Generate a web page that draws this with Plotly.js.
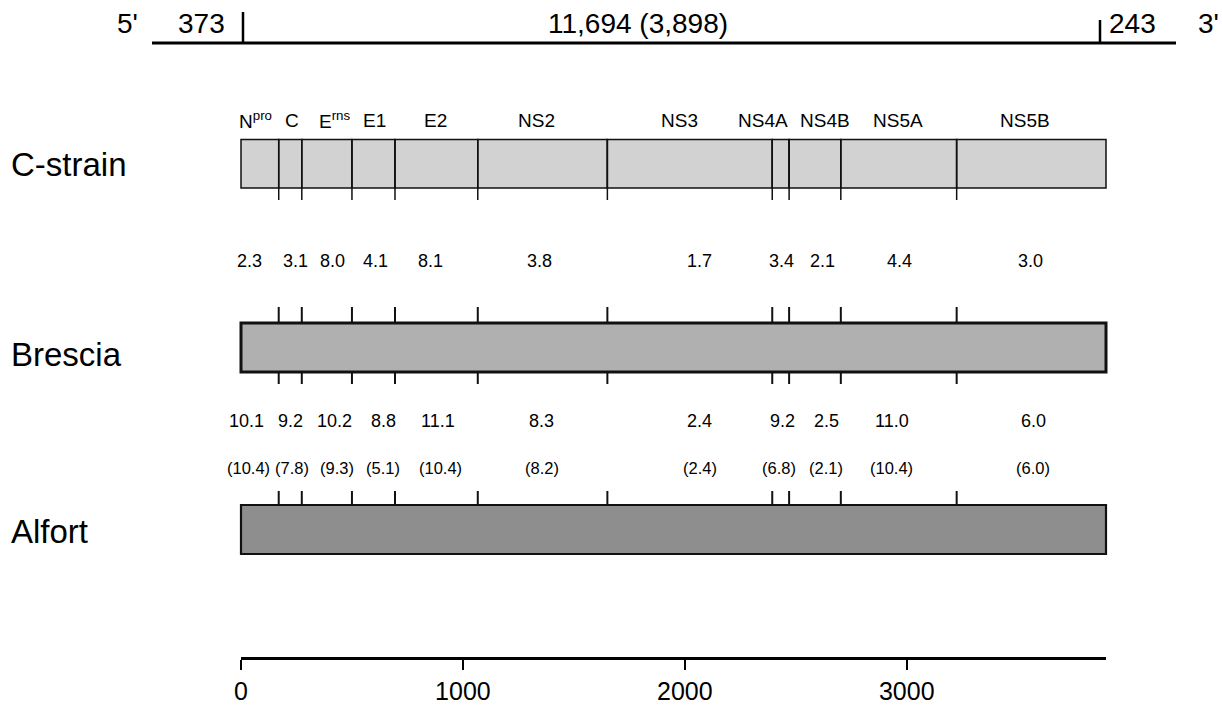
<!DOCTYPE html>
<html>
<head>
<meta charset="utf-8">
<script src="https://cdn.plot.ly/plotly-3.0.1.min.js"></script>
<style>html,body{margin:0;padding:0;background:#fff;}#chart{width:1222px;height:707px;}</style>
</head>
<body>
<div id="chart"></div>
<script>
// ---------- data ----------
const regions = ['N<sup>pro</sup>', 'C', 'E<sup>rns</sup>', 'E1', 'E2', 'NS2', 'NS3', 'NS4A', 'NS4B', 'NS5A', 'NS5B'];
const boundaries = [0, 170, 274, 500, 694, 1067, 1651, 2394, 2470, 2703, 3225, 3898];
const strains = ['C-strain', 'Brescia', 'Alfort'];
const cStrainVsBrescia = ['2.3', '3.1', '8.0', '4.1', '8.1', '3.8', '1.7', '3.4', '2.1', '4.4', '3.0'];
const bresciaVsAlfortNt = ['10.1', '9.2', '10.2', '8.8', '11.1', '8.3', '2.4', '9.2', '2.5', '11.0', '6.0'];
const bresciaVsAlfortAa = ['10.4', '7.8', '9.3', '5.1', '10.4', '8.2', '2.4', '6.8', '2.1', '10.4', '6.0'];
const scaleTicks = [0, 1000, 2000, 3000];
const utr5 = '373';
const orfText = '11,694 (3,898)';
const utr3 = '243';

// ---------- layout helpers (pixel geometry) ----------
const W = 1222, H = 707;
const PX_PER_AA = (1106 - 241) / 3898;
const X0 = -241 / PX_PER_AA, X1 = (W - 241) / PX_PER_AA;
const px = p => p / W;          // paper x
const py = p => 1 - p / H;      // paper y
const FONT = 'Liberation Sans, Arial, Helvetica, sans-serif';

const rows = {
  'C-strain': {top: 139.5, bottom: 188, fill: '#d2d2d2', lw: 1.5},
  'Brescia':  {top: 323, bottom: 372, fill: '#b0b0b0', lw: 3},
  'Alfort':   {top: 505, bottom: 554, fill: '#8e8e8e', lw: 2.2}
};
const labelShift = [-4, 2, 8, 1, -1, -6, -10, -18, 10, -1, -6];
const row1Shift = [-10, 5, 6, 2, -6, -3, 10, 1, 8, 1, -1];
const row2Shift = [-13, 0, 8, 10, 2, -1, 10, 2, 12, -7, 2];
const row3Shift = [-11, 2, 10, 10, 4, -1, 10, -2, 11, -7, 2];

const mids = boundaries.slice(0, -1).map((b, i) => (b + boundaries[i + 1]) / 2);
const total = boundaries[boundaries.length - 1];
const inner = boundaries.slice(1, -1);

const traces = [];
const cs = rows['C-strain'];
traces.push({
  type: 'bar', orientation: 'h', xaxis: 'x', yaxis: 'y',
  y: mids.map(() => (cs.top + cs.bottom) / 2),
  base: boundaries.slice(0, -1),
  x: boundaries.slice(1).map((b, i) => b - boundaries[i]),
  width: cs.bottom - cs.top,
  marker: {color: cs.fill, line: {color: '#111', width: cs.lw}},
  hoverinfo: 'skip', showlegend: false
});
['Brescia', 'Alfort'].forEach(s => {
  const r = rows[s];
  traces.push({
    type: 'bar', orientation: 'h', xaxis: 'x', yaxis: 'y',
    y: [(r.top + r.bottom) / 2], base: [0], x: [total],
    width: r.bottom - r.top,
    marker: {color: r.fill, line: {color: '#111', width: r.lw}},
    hoverinfo: 'skip', showlegend: false
  });
});
traces.push({type: 'scatter', mode: 'markers', x: [0], y: [-100], xaxis: 'x2', yaxis: 'y',
  marker: {opacity: 0}, hoverinfo: 'skip', showlegend: false});

const shapes = [];
inner.forEach(b => shapes.push({type: 'line', xref: 'x', yref: 'y', x0: b, x1: b,
  y0: cs.top, y1: 200, line: {color: '#111', width: 1.5}}));
inner.forEach(b => {
  shapes.push({type: 'line', xref: 'x', yref: 'y', x0: b, x1: b, y0: 307, y1: 323, line: {color: '#111', width: 2}});
  shapes.push({type: 'line', xref: 'x', yref: 'y', x0: b, x1: b, y0: 372, y1: 384, line: {color: '#111', width: 2}});
});
inner.forEach(b => shapes.push({type: 'line', xref: 'x', yref: 'y', x0: b, x1: b, y0: 491, y1: 505, line: {color: '#111', width: 2}}));
shapes.push({type: 'line', xref: 'paper', yref: 'paper', x0: px(152), x1: px(1176), y0: py(43), y1: py(43), line: {color: '#000', width: 3}});
shapes.push({type: 'line', xref: 'paper', yref: 'paper', x0: px(243), x1: px(243), y0: py(12), y1: py(43), line: {color: '#000', width: 2.5}});
shapes.push({type: 'line', xref: 'paper', yref: 'paper', x0: px(1100), x1: px(1100), y0: py(20), y1: py(43), line: {color: '#000', width: 2.5}});

const annotations = [];
const txt = (text, x, y, size, opts = {}) => Object.assign({
  text, x, y, xref: 'x', yref: 'y', showarrow: false, font: {family: FONT, size, color: '#000'},
  xanchor: 'center', yanchor: 'middle'
}, opts);

regions.forEach((r, i) => annotations.push(txt(r, mids[i], 120, 19, {xshift: labelShift[i]})));
cStrainVsBrescia.forEach((v, i) => annotations.push(txt(v, mids[i], 261, 18, {xshift: row1Shift[i]})));
bresciaVsAlfortNt.forEach((v, i) => annotations.push(txt(v, mids[i], 421, 18, {xshift: row2Shift[i]})));
bresciaVsAlfortAa.forEach((v, i) => annotations.push(txt('(' + v + ')', mids[i], 468, 16.5, {xshift: row3Shift[i]})));

const strainY = {'C-strain': 164, 'Brescia': 354, 'Alfort': 531};
strains.forEach(s => annotations.push({text: s, xref: 'paper', yref: 'paper', x: px(9), y: py(strainY[s]),
  xanchor: 'left', yanchor: 'middle', showarrow: false, font: {family: FONT, size: 33, color: '#000'}}));

const topLabel = (text, x, anchor) => ({text, xref: 'paper', yref: 'paper', x: px(x), y: py(23),
  xanchor: anchor, yanchor: 'middle', showarrow: false, font: {family: FONT, size: 28, color: '#000'}});
annotations.push(topLabel("5'", 115, 'left'));
annotations.push(topLabel(utr5, 201, 'center'));
annotations.push(topLabel(orfText, 638, 'center'));
annotations.push(topLabel(utr3, 1132, 'center'));
annotations.push(topLabel("3'", 1196, 'left'));

const layout = {
  width: W, height: H,
  margin: {l: 0, r: 0, t: 0, b: 0},
  paper_bgcolor: '#fff', plot_bgcolor: 'rgba(0,0,0,0)',
  barmode: 'overlay', showlegend: false,
  xaxis: {domain: [0, 1], range: [X0, X1], visible: false, fixedrange: true},
  yaxis: {domain: [0, 1], range: [H, 0], visible: false, fixedrange: true},
  xaxis2: {
    domain: [px(241), px(1106)], range: [0, total], anchor: 'free', position: 1 - 658 / H,
    showline: true, linecolor: '#000', linewidth: 3, ticks: 'outside', ticklen: 10, tickwidth: 2,
    tickcolor: '#000', tickvals: scaleTicks, ticktext: scaleTicks.map(String),
    showgrid: false, zeroline: false, tickfont: {family: FONT, size: 25, color: '#000'}, fixedrange: true
  },
  shapes, annotations
};

Plotly.newPlot('chart', traces, layout, {displayModeBar: false, staticPlot: true});
</script>
</body>
</html>
